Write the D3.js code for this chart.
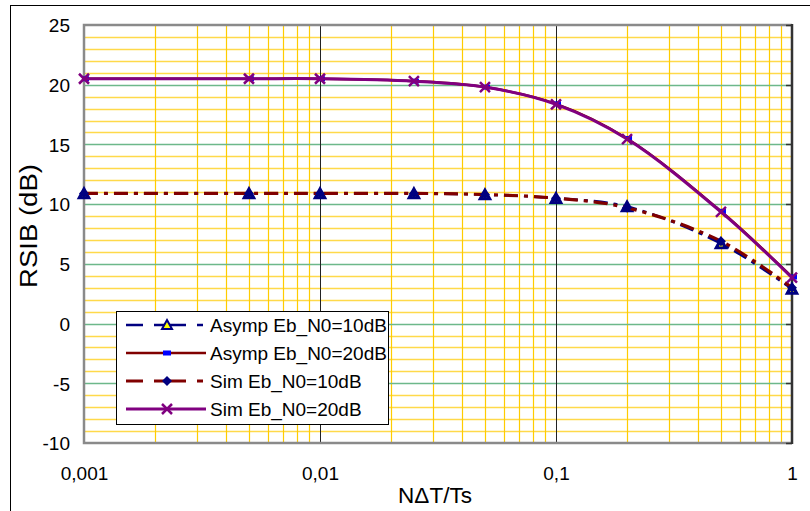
<!DOCTYPE html>
<html><head><meta charset="utf-8">
<script src="https://cdn.jsdelivr.net/npm/d3@7"></script>
<style>body{margin:0;background:#fff}svg{display:block}text{font-family:Arial,"Liberation Sans",sans-serif}</style>
</head><body><svg id="c" width="810" height="511"></svg>
<script>
const xValues = [0.001, 0.005, 0.01, 0.025, 0.05, 0.1, 0.2, 0.5, 1];
const asymp10 = [10.9, 10.9, 10.9, 10.9, 10.8, 10.5, 9.8, 6.7, 2.9];
const asymp20 = [20.5, 20.5, 20.5, 20.3, 19.8, 18.4, 15.5, 9.4, 3.9];
const sim10   = [10.9, 10.9, 10.9, 10.9, 10.8, 10.5, 9.7, 6.9, 3.0];
const sim20   = [20.5, 20.5, 20.5, 20.3, 19.8, 18.35, 15.45, 9.35, 3.85];
const seriesNames = ["Asymp Eb_N0=10dB", "Asymp Eb_N0=20dB", "Sim Eb_N0=10dB", "Sim Eb_N0=20dB"];
const xTickValues = [0.001, 0.01, 0.1, 1];
const xTickLabels = ["0,001", "0,01", "0,1", "1"];
const yTickValues = [-10, -5, 0, 5, 10, 15, 20, 25];
const xTitle = "NΔT/Ts";
const yTitle = "RSIB (dB)";

const svg = d3.select("#c");
const L = 84, R = 792, T = 25, B = 443;
const x = d3.scaleLog().domain([0.001, 1]).range([L, R]);
const y = d3.scaleLinear().domain([-10, 25]).range([B, T]);

// outer chart border
svg.append("rect").attr("x", 10.5).attr("y", 5.5).attr("width", 820).attr("height", 520)
  .attr("fill", "#fff").attr("stroke", "#000").attr("stroke-width", 1);

const g = svg.append("g");
// minor horizontal gridlines
const yMinor = d3.range(-9, 25).filter(v => v % 5 !== 0);
g.selectAll(".hm").data(yMinor).join("line")
  .attr("x1", L).attr("x2", R).attr("y1", d => Math.round(y(d)) + 0.5).attr("y2", d => Math.round(y(d)) + 0.5)
  .attr("stroke", "#FFD94A").attr("stroke-width", 1.5);
// minor vertical gridlines
const xMinor = [];
[0.001, 0.01, 0.1].forEach(dec => { for (let k = 2; k <= 9; k++) xMinor.push(dec * k); });
g.selectAll(".vm").data(xMinor).join("line")
  .attr("x1", d => Math.round(x(d)) + 0.5).attr("x2", d => Math.round(x(d)) + 0.5).attr("y1", T).attr("y2", B)
  .attr("stroke", "#FFCC00").attr("stroke-width", 1.2);
// major horizontal gridlines
g.selectAll(".hM").data(yTickValues.filter(v => v > -10 && v < 25)).join("line")
  .attr("x1", L).attr("x2", R).attr("y1", d => Math.round(y(d)) + 0.5).attr("y2", d => Math.round(y(d)) + 0.5)
  .attr("stroke", "#6DB88A").attr("stroke-width", 1.5);
// major vertical gridlines
g.selectAll(".vM").data([0.01, 0.1]).join("line")
  .attr("x1", d => Math.round(x(d)) + 0.5).attr("x2", d => Math.round(x(d)) + 0.5).attr("y1", T).attr("y2", B)
  .attr("stroke", "#222").attr("stroke-width", 1);

// plot border
g.append("path").attr("d", `M${R},${T}H${L}V${B}H${R}`).attr("fill", "none").attr("stroke", "#8a8a8a").attr("stroke-width", 2.5);
g.append("line").attr("x1", R).attr("x2", R).attr("y1", T - 1).attr("y2", B + 1).attr("stroke", "#333").attr("stroke-width", 2.5);
g.selectAll(".rt").data(yTickValues).join("line")
  .attr("x1", R - 6).attr("x2", R).attr("y1", d => Math.round(y(d)) + 0.5).attr("y2", d => Math.round(y(d)) + 0.5)
  .attr("stroke", "#333").attr("stroke-width", 1.5);

// axis labels via d3 axes
const yAxis = svg.append("g").attr("transform", `translate(70,0)`)
  .call(d3.axisLeft(y).tickValues(yTickValues).tickSize(0).tickPadding(0).tickFormat(d => String(d)));
yAxis.select(".domain").remove();
yAxis.selectAll("text").attr("font-size", 19).attr("fill", "#000").attr("font-family", "Arial, Liberation Sans").attr("dy", "0.36em");

const xAxis = svg.append("g").attr("transform", `translate(0,${B})`)
  .call(d3.axisBottom(x).tickValues(xTickValues).tickSize(0).tickPadding(0).tickFormat((d, i) => xTickLabels[i]));
xAxis.select(".domain").remove();
xAxis.selectAll("text").attr("font-size", 19).attr("fill", "#000").attr("font-family", "Arial, Liberation Sans").attr("dy", null).attr("y", 37);

svg.append("text").attr("x", 435).attr("y", 503).attr("text-anchor", "middle").attr("font-size", 22.5).text(xTitle);
svg.append("text").attr("transform", "translate(37,226) rotate(-90)").attr("text-anchor", "middle")
  .attr("font-size", 23).attr("textLength", 124).attr("lengthAdjust", "spacingAndGlyphs").text(yTitle);

// series
const pts = vals => xValues.map((xv, i) => [x(xv), y(vals[i])]);
const line = d3.line().curve(d3.curveCatmullRom.alpha(0.5));
const series = [
  {vals: asymp10, color: "#000080", width: 2.5, dash: "14,6,4,6", marker: "tri"},
  {vals: asymp20, color: "#800000", width: 2.5, dash: null, marker: "rect"},
  {vals: sim10, color: "#800000", width: 3.2, dash: "14,6,4,6", marker: "dia"},
  {vals: sim20, color: "#800080", width: 3, dash: null, marker: "x"}
];
function drawMarker(sel, type, cx, cy) {
  if (type === "tri") {
    sel.append("path").attr("d", `M${cx},${cy - 6}L${cx + 6},${cy + 5}L${cx - 6},${cy + 5}Z`).attr("fill", "#000080").attr("stroke", "#000080").attr("stroke-width", 1.5);
    sel.append("path").attr("d", `M${cx},${cy - 1}L${cx + 2},${cy + 3}L${cx - 2},${cy + 3}Z`).attr("fill", "#FFFF00");
  } else if (type === "rect") {
    sel.append("rect").attr("x", cx - 2).attr("y", cy - 2.5).attr("width", 7).attr("height", 5).attr("fill", "#0000FF");
  } else if (type === "dia") {
    sel.append("path").attr("d", `M${cx},${cy - 5}L${cx + 5},${cy}L${cx},${cy + 5}L${cx - 5},${cy}Z`).attr("fill", "#000080");
  } else if (type === "x") {
    sel.append("path").attr("d", `M${cx - 5},${cy - 5}L${cx + 5},${cy + 5}M${cx + 5},${cy - 5}L${cx - 5},${cy + 5}`).attr("stroke", "#800080").attr("stroke-width", 2.5);
  }
}
series.forEach(s => {
  const p = pts(s.vals);
  const path = svg.append("path").attr("d", line(p)).attr("fill", "none").attr("stroke", s.color).attr("stroke-width", s.width);
  if (s.dash) path.attr("stroke-dasharray", s.dash);
  const mg = svg.append("g");
  p.forEach(([cx, cy]) => drawMarker(mg, s.marker, cx, cy));
});

// legend
const lg = svg.append("g");
lg.append("rect").attr("x", 116.5).attr("y", 311.5).attr("width", 272).attr("height", 113).attr("fill", "#fff").attr("stroke", "#000").attr("stroke-width", 1);
const rowY = [325, 353, 381, 409];
const legendDash = ["17,11,32,11,6,20", null, "17,11,32,11,6,20", null];
series.forEach((s, i) => {
  const ly = rowY[i];
  const ln = lg.append("line").attr("x1", 126).attr("x2", 206).attr("y1", ly).attr("y2", ly).attr("stroke", s.color).attr("stroke-width", s.width);
  if (legendDash[i]) ln.attr("stroke-dasharray", legendDash[i]);
  const mg = lg.append("g");
  if (s.marker === "tri") {
    mg.append("path").attr("d", `M167,${ly - 5}L172,${ly + 4}L162,${ly + 4}Z`).attr("fill", "#FFFF00").attr("stroke", "#000080").attr("stroke-width", 2);
  } else if (s.marker === "rect") {
    mg.append("rect").attr("x", 163).attr("y", ly - 2.5).attr("width", 8).attr("height", 5).attr("fill", "#0000FF");
  } else drawMarker(mg, s.marker, 167, ly);
  lg.append("text").attr("x", 210).attr("y", ly + 7).attr("font-size", 19).text(seriesNames[i]);
});
</script></body></html>
